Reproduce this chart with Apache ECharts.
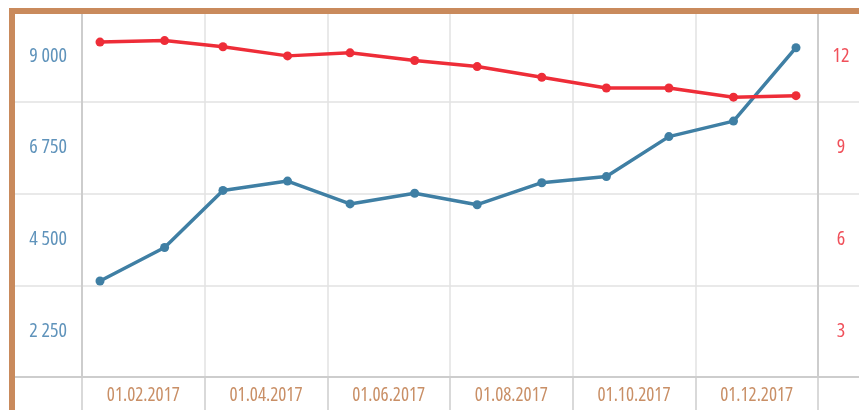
<!DOCTYPE html>
<html>
<head>
<meta charset="utf-8">
<script src="https://cdn.jsdelivr.net/npm/echarts@6/dist/echarts.min.js"></script>
<style>
html,body{margin:0;padding:0;background:#fff;}
#chart{width:859px;height:410px;}
</style>
</head>
<body>
<div id="chart"></div>
<script>
// ---- data ----
const dates = ['2017-01-01','2017-02-01','2017-03-01','2017-04-01','2017-05-01','2017-06-01',
               '2017-07-01','2017-08-01','2017-09-01','2017-10-01','2017-11-01','2017-12-01'];
const blueValues = [3480, 4300, 5700, 5930, 5370, 5630, 5350, 5890, 6040, 7020, 7400, 9200];
const redValues  = [12.45, 12.5, 12.3, 12.0, 12.1, 11.85, 11.65, 11.3, 10.95, 10.95, 10.65, 10.7];
const xTickLabels = ['01.02.2017','01.04.2017','01.06.2017','01.08.2017','01.10.2017','01.12.2017'];
const leftTicks = [2250, 4500, 6750, 9000];
const rightTicks = [3, 6, 9, 12];

// ---- helpers ----
const DAY = 86400000;
const toTs = s => { const p = s.split('-').map(Number); return Date.UTC(p[0], p[1]-1, p[2]); };
const fmtThousands = v => String(v).replace(/\B(?=(\d{3})+(?!\d))/g, ' ');
const FONT = '"Open Sans"';
const STRETCH = 'condensed';   // font-stretch keyword passed through the weight slot
const GRID_C = '#e2e2e2';
const AXIS_C = '#cdcdcd';

const chart = echarts.init(document.getElementById('chart'), null, {renderer:'canvas'});

const leftY = {min: 1125, max: 10125, interval: 1125};
const rightY = {min: 1.5, max: 13.5, interval: 1.5};

const option = {
  animation: false,
  backgroundColor: '#fff',
  grid: [
    {left: 82, right: 41, top: 10, bottom: 33},   // main plot
    {left: 15, width: 67, top: 10, bottom: 33},   // left strip
    {left: 818, right: 0, top: 10, bottom: 33},   // right strip
    {left: 82, right: 41, top: 377, bottom: 0}    // bottom strip
  ],
  xAxis: [
    {
      type: 'category', gridIndex: 0, data: xTickLabels, boundaryGap: true,
      axisLine: {show: true, lineStyle: {color: AXIS_C, width: 2}},
      axisTick: {show: false},
      axisLabel: {color: '#c98f66', fontFamily: FONT, fontWeight: STRETCH, fontSize: 19, margin: 9},
      splitLine: {show: true, lineStyle: {color: GRID_C, width: 1.5}}
    },
    {
      type: 'time', gridIndex: 0,
      min: toTs(dates[0]) - 8.64*DAY,
      max: toTs(dates[dates.length-1]) + 10.56*DAY,
      show: false
    },
    {type: 'value', gridIndex: 1, min: 0, max: 1, axisLabel: {show:false}, axisTick:{show:false},
     splitLine:{show:false}, axisLine:{show:true, lineStyle:{color: AXIS_C, width: 2}}},
    {type: 'value', gridIndex: 2, min: 0, max: 1, axisLabel: {show:false}, axisTick:{show:false},
     splitLine:{show:false}, axisLine:{show:true, lineStyle:{color: AXIS_C, width: 2}}},
    {type: 'category', gridIndex: 3, data: xTickLabels, boundaryGap: true,
     axisLine:{show:false}, axisTick:{show:false}, axisLabel:{show:false},
     splitLine:{show:true, lineStyle:{color: AXIS_C, width: 1.5}}}
  ],
  yAxis: [
    {
      type: 'value', gridIndex: 0, position: 'left', ...leftY,
      axisLine: {show: true, lineStyle: {color: AXIS_C, width: 2}},
      axisTick: {show: false},
      axisLabel: {
        color: '#5f93bb', fontFamily: FONT, fontWeight: STRETCH, fontSize: 20, margin: 15, align: 'right',
        formatter: v => leftTicks.indexOf(v) >= 0 ? fmtThousands(v) : ''
      },
      splitLine: {show: true, lineStyle: {color: [GRID_C, 'rgba(0,0,0,0)'], width: 1.5}}
    },
    {
      type: 'value', gridIndex: 0, position: 'right', ...rightY,
      axisLine: {show: true, lineStyle: {color: AXIS_C, width: 2}},
      axisTick: {show: false},
      axisLabel: {
        color: '#f0505a', fontFamily: FONT, fontWeight: STRETCH, fontSize: 20, margin: 23, align: 'center',
        formatter: v => rightTicks.indexOf(v) >= 0 ? String(v) : ''
      },
      splitLine: {show: false}
    },
    {type: 'value', gridIndex: 1, ...leftY, axisLine:{show:false}, axisTick:{show:false}, axisLabel:{show:false},
     splitLine: {show: true, lineStyle: {color: [GRID_C, 'rgba(0,0,0,0)'], width: 1.5}}},
    {type: 'value', gridIndex: 2, ...leftY, axisLine:{show:false}, axisTick:{show:false}, axisLabel:{show:false},
     splitLine: {show: true, lineStyle: {color: [GRID_C, 'rgba(0,0,0,0)'], width: 1.5}}},
    {type: 'value', gridIndex: 3, show: false}
  ],
  graphic: [
    {type: 'rect', z: 100, shape: {x: 9, y: 8, width: 850, height: 6}, style: {fill: '#c98a5c'}},
    {type: 'rect', z: 100, shape: {x: 9, y: 8, width: 6, height: 402}, style: {fill: '#c98a5c'}}
  ],
  series: [
    {
      name: 'blue', type: 'line', xAxisIndex: 1, yAxisIndex: 0,
      data: dates.map((d, i) => [toTs(d), blueValues[i]]),
      symbol: 'circle', symbolSize: 9,
      lineStyle: {color: '#3f7fa4', width: 3.5},
      itemStyle: {color: '#3f7fa4'}
    },
    {
      name: 'red', type: 'line', xAxisIndex: 1, yAxisIndex: 1,
      data: dates.map((d, i) => [toTs(d), redValues[i]]),
      symbol: 'circle', symbolSize: 9,
      lineStyle: {color: '#ee2d38', width: 3.5},
      itemStyle: {color: '#ee2d38'}
    }
  ]
};
chart.setOption(option);
</script>
</body>
</html>
